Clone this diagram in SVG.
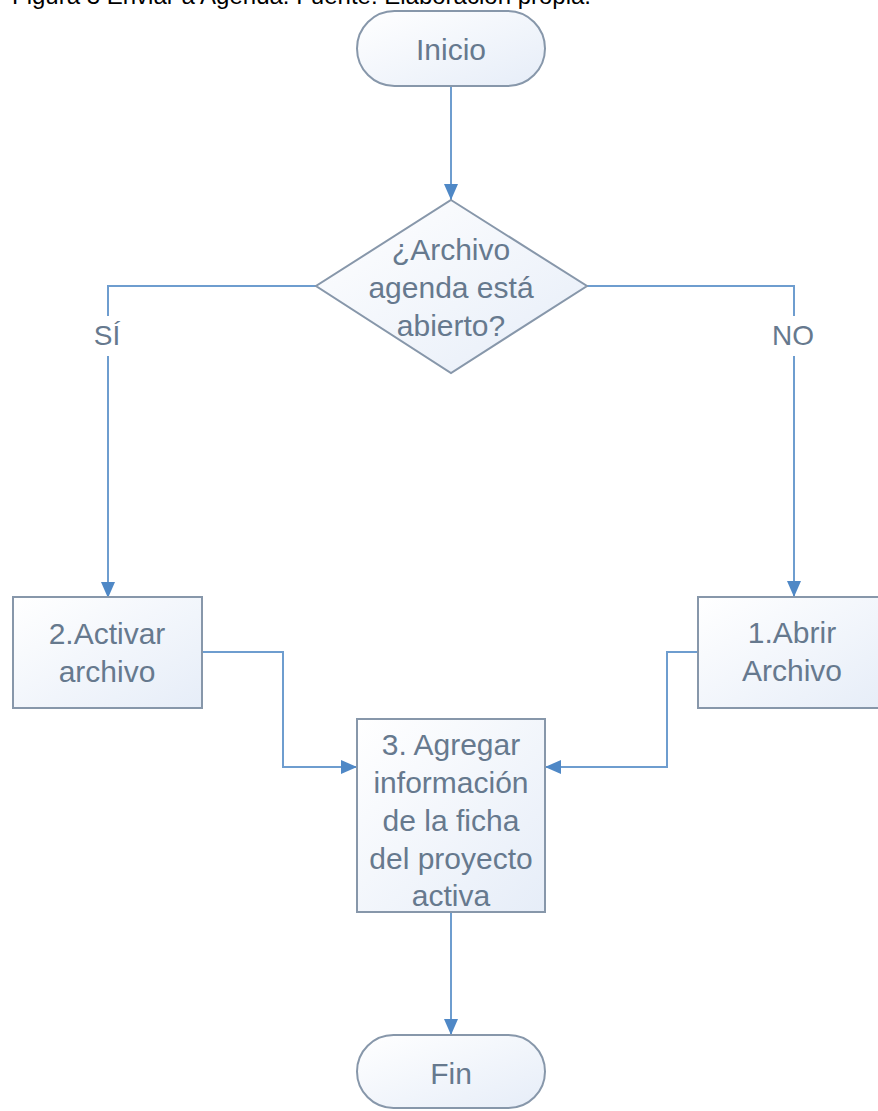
<svg xmlns="http://www.w3.org/2000/svg" width="878" height="1111" viewBox="0 0 878 1111">
<defs>
<linearGradient id="fillg" x1="0" y1="0" x2="1" y2="1">
<stop offset="0" stop-color="#ffffff"/>
<stop offset="1" stop-color="#e6edf8"/>
</linearGradient>
<marker id="arr" viewBox="0 0 16 14" refX="16" refY="7" markerWidth="16" markerHeight="14" markerUnits="userSpaceOnUse" orient="auto">
<path d="M0,0 L16,7 L0,14 z" fill="#4f88c6"/>
</marker>
<style>
.shape{fill:url(#fillg);stroke:#8797aa;stroke-width:2}
.lbl{font-family:"Liberation Sans",Arial,sans-serif;font-size:30px;fill:#66798e;text-anchor:middle}
.edge{fill:none;stroke:#6e9dcf;stroke-width:2}
.cap{font-family:"Liberation Sans",Arial,sans-serif;font-size:24px;fill:#000}
</style>
</defs>
<rect width="878" height="1111" fill="#ffffff"/>
<text class="cap" x="12" y="4">Figura 3 Enviar a Agenda. Fuente: Elaboración propia.</text>

<g id="connectors">
<path class="edge" d="M451,86 V200" marker-end="url(#arr)"/>
<path class="edge" d="M316,286 H108 V316"/>
<path class="edge" d="M108,356 V598" marker-end="url(#arr)"/>
<path class="edge" d="M587,286 H794 V316"/>
<path class="edge" d="M794,356 V597" marker-end="url(#arr)"/>
<path class="edge" d="M202,652 H283 V767 H357" marker-end="url(#arr)"/>
<path class="edge" d="M698,652 H667 V767 H545" marker-end="url(#arr)"/>
<path class="edge" d="M451,912 V1035" marker-end="url(#arr)"/>
<text class="lbl" style="font-size:28px" x="107" y="345">SÍ</text>
<text class="lbl" style="font-size:28px" x="793" y="345">NO</text>
</g>

<g id="inicio">
<rect class="shape" x="357" y="11" width="188" height="75" rx="37.5"/>
<text class="lbl" x="451" y="60">Inicio</text>
</g>

<g id="decision">
<polygon class="shape" points="451,200 587,286 451,373 316,286"/>
<text class="lbl" x="451" y="260">¿Archivo</text>
<text class="lbl" x="451" y="298">agenda está</text>
<text class="lbl" x="451" y="336">abierto?</text>
</g>

<g id="activar">
<rect class="shape" x="13" y="597" width="189" height="111"/>
<text class="lbl" x="107" y="644">2.Activar</text>
<text class="lbl" x="107" y="682">archivo</text>
</g>

<g id="abrir">
<rect class="shape" x="698" y="597" width="189" height="111"/>
<text class="lbl" x="792" y="643">1.Abrir</text>
<text class="lbl" x="792" y="681">Archivo</text>
</g>

<g id="agregar">
<rect class="shape" x="357" y="719" width="188" height="193"/>
<text class="lbl" x="451" y="755">3. Agregar</text>
<text class="lbl" x="451" y="793">información</text>
<text class="lbl" x="451" y="831">de la ficha</text>
<text class="lbl" x="451" y="869">del proyecto</text>
<text class="lbl" x="451" y="906">activa</text>
</g>

<g id="fin">
<rect class="shape" x="357" y="1035" width="188" height="73" rx="36.5"/>
<text class="lbl" x="451" y="1084">Fin</text>
</g>
</svg>
